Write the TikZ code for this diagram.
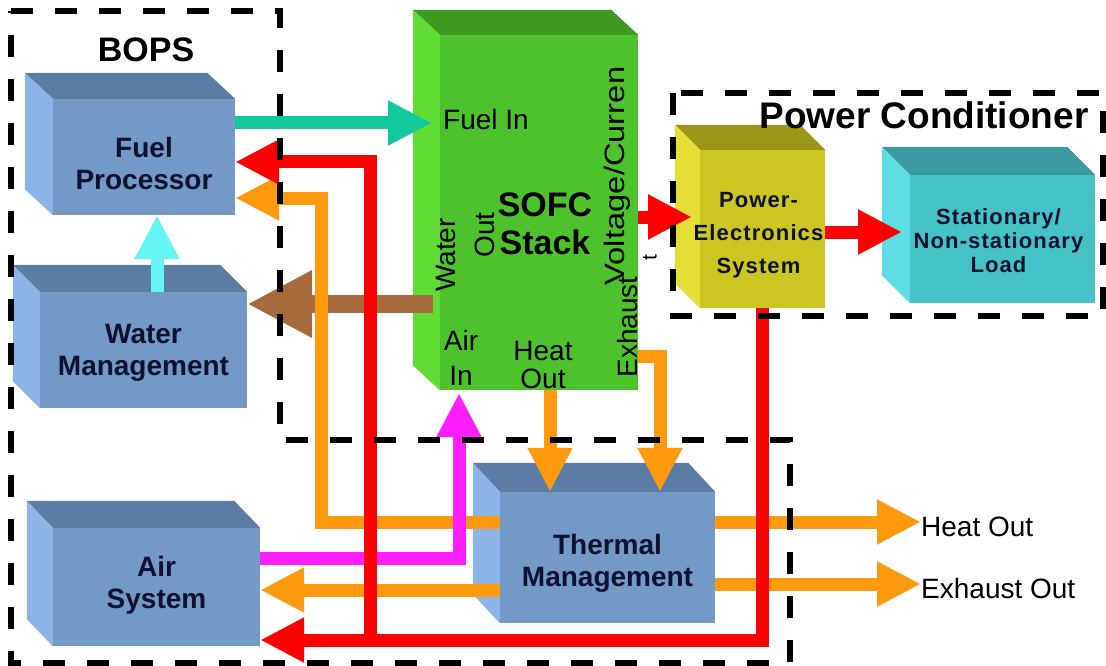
\documentclass[tikz,border=0pt]{standalone}
\usepackage{fontspec}
\setmainfont{Liberation Sans}
\newfontfamily\trackedsans[LetterSpace=5]{Liberation Sans}
\newfontfamily\stretchedsans[FakeStretch=1.17]{Liberation Sans}
\usetikzlibrary{arrows.meta,calc}

\definecolor{boxfront}{HTML}{7399C6}
\definecolor{boxtop}{HTML}{5B7DA4}
\definecolor{boxside}{HTML}{8BB5E6}
\definecolor{stackfront}{HTML}{4EC22C}
\definecolor{stacktop}{HTML}{3F9A22}
\definecolor{stackside}{HTML}{60DC34}
\definecolor{pefront}{HTML}{CCC622}
\definecolor{petop}{HTML}{9C9618}
\definecolor{peside}{HTML}{E4DE36}
\definecolor{loadfront}{HTML}{45C2C8}
\definecolor{loadtop}{HTML}{3A9CA2}
\definecolor{loadside}{HTML}{5EDDE4}
\definecolor{fuelteal}{HTML}{12C99B}
\definecolor{powred}{HTML}{FF0000}
\definecolor{heatorange}{HTML}{FF9A0E}
\definecolor{airpink}{HTML}{FF1EFF}
\definecolor{waterbrown}{HTML}{A66A3C}
\definecolor{watercyan}{HTML}{66F5F5}
\definecolor{labelnavy}{HTML}{0E1230}

% top and left faces of a block, depth (#4,#5)
\newcommand{\blockfaces}[5]{%
  \fill[#2] ($(#1.north west)+(#4,#5)$) -- ($(#1.north east)+(#4,#5)$) -- (#1.north east) -- (#1.north west) -- cycle;
  \fill[#3] ($(#1.north west)+(#4,#5)$) -- (#1.north west) -- (#1.south west) -- ($(#1.south west)+(#4,#5)$) -- cycle;
}

\begin{document}
\begin{tikzpicture}[x=1pt,y=-1pt,
  blk/.style={inner sep=0pt},
  blktext/.style={align=center,inner sep=0pt,text=labelnavy,font=\fontsize{28}{32}\selectfont\bfseries},
  trackedtext/.style={align=center,inner sep=0pt,text=labelnavy,font=\trackedsans\bfseries\fontsize{22}{33}\selectfont},
  port/.style={inner sep=0pt,font=\fontsize{28}{30}\selectfont},
  flow/.style={line width=13pt,-{Triangle[width=42pt,length=44pt]}},
  bigflow/.style={line width=18pt,-{Triangle[width=63pt,length=65pt]}},
  zone/.style={line width=6pt,dash pattern=on 22pt off 22pt}
]
\useasboundingbox (0,0) rectangle (1106,666);

% blocks
\node[blk,fill=boxfront,minimum width=182pt,minimum height=116pt] (fuel) at (144,157) {};
\blockfaces{fuel}{boxtop}{boxside}{-28}{-26}
\node[blktext] (fueltext) at ($(fuel)+(0,6)$) {Fuel\\Processor};

\node[blk,fill=boxfront,minimum width=207pt,minimum height=116pt] (water) at (143.5,350) {};
\blockfaces{water}{boxtop}{boxside}{-27}{-27}
\node[blktext] (watertext) at ($(water)+(0,3)$) {Water\\Management};

\node[blk,fill=boxfront,minimum width=207pt,minimum height=118pt] (air) at (156.5,587) {};
\blockfaces{air}{boxtop}{boxside}{-26}{-27}
\node[blktext] (airtext) at ($(air)+(0,-2)$) {Air\\System};

\node[blk,fill=boxfront,minimum width=215pt,minimum height=131pt] (therm) at (607.5,557.5) {};
\blockfaces{therm}{boxtop}{boxside}{-27}{-29}
\node[blktext] (thermtext) at ($(therm)+(0,6)$) {Thermal\\Management};

\node[blk,fill=stackfront,minimum width=198pt,minimum height=355pt] (sofc) at (539,212.5) {};
\blockfaces{sofc}{stacktop}{stackside}{-27}{-25}
\node[font=\fontsize{34}{38}\selectfont\bfseries,align=center,inner sep=0pt] (sofctext) at (545,224) {SOFC\\Stack};

\node[blk,fill=pefront,minimum width=125pt,minimum height=158pt] (pes) at (762.5,229) {};
\blockfaces{pes}{petop}{peside}{-25}{-25}
\node[trackedtext] (pestext) at ($(pes)+(-4,6)$) {Power-\\Electronics\\System};

\node[blk,fill=loadfront,minimum width=185pt,minimum height=128pt] (load) at (1002.5,239) {};
\blockfaces{load}{loadtop}{loadside}{-28}{-28}
\node[trackedtext,font=\trackedsans\bfseries\fontsize{22}{24}\selectfont] (loadtext) at ($(load)+(-4,2)$) {Stationary/\\Non-stationary\\Load};

% titles and port labels
\node[font=\fontsize{34}{36}\selectfont\bfseries,inner sep=0pt] (bops) at (146,50) {BOPS};
\node[font=\fontsize{37}{38}\selectfont\bfseries,inner sep=0pt] (pctitle) at (924,115) {Power Conditioner};
\node[port] (fuelinlbl) at (486,119) {Fuel In};
\node[port,rotate=90] (waterlbl) at (446,255) {Water};
\node[port,rotate=90] (outlbl) at (485,235) {Out};
\node[port,rotate=90,font=\stretchedsans\fontsize{28}{30}\selectfont] (vilbl) at (617,176) {Voltage/Curren};
\node[port,rotate=90,font=\fontsize{21}{22}\selectfont] (curtail) at (650,258) {t};
\node[port,rotate=90] (exhlbl) at (627,327) {Exhaust};
\node[port] (airlbl) at (461,340) {Air};
\node[port] (inlbl) at (461,376) {In};
\node[port] (heatlbl) at (543,351) {Heat};
\node[port] (heatoutlbl) at (543,379) {Out};
\node[port,anchor=west] (heatexit) at (921,527) {Heat Out};
\node[port,anchor=west] (exhexit) at (921,588) {Exhaust Out};

% bends and ports
\coordinate (fuelin) at (432,123);
\coordinate (redtop) at (370,162);
\coordinate (redbus) at (370,640);
\coordinate (hottop) at (321,198);
\coordinate (hotbus) at (321,522);
\coordinate (coolrow) at (400,590);
\coordinate (airin) at (459,393);
\coordinate (airbus) at (459,558);
\coordinate (waterout) at (433,304);
\coordinate (cyancol) at (157,0);
\coordinate (heatcol) at (550,0);
\coordinate (exhbend) at (660,356);
\coordinate (dcout) at (692,217);
\coordinate (loadin) at (902,232);
\coordinate (exhrow) at (0,584);

% flows
\draw[bigflow,waterbrown] (waterout) -- (water.east |- waterout);
\draw[flow,heatorange] (therm.west |- hotbus) -- (hotbus) -- (hottop) -- (fuel.east |- hottop);
\draw[flow,heatorange] (therm.west |- coolrow) -- (air.east |- coolrow);
\draw[flow,heatorange] (sofc.south -| heatcol) -- (therm.north -| heatcol);
\draw[flow,heatorange] (sofc.east |- exhbend) -- (exhbend) -- (therm.north -| exhbend);
\draw[flow,heatorange] (therm.east |- hotbus) -- (heatexit.west |- hotbus);
\draw[flow,heatorange] (therm.east |- exhrow) -- (exhexit.west |- exhrow);
\draw[flow,watercyan] (water.north -| cyancol) -- (fuel.south -| cyancol);
\draw[flow,fuelteal] (fuel.east |- fuelin) -- (fuelin);
\draw[flow,airpink] (air.east |- airbus) -- (airbus) -- (airin);
\draw[flow,powred] (pes.south) |- (air.east |- redbus);
\draw[flow,powred] (redbus) -- (redtop) -- (fuel.east |- redtop);
\draw[flow,powred] (sofc.east |- dcout) -- (dcout);
\draw[flow,powred] (pes.east |- loadin) -- (loadin);

% subsystem borders
\draw[zone] (11,11) -- (280,11) -- (280,440) -- (790,440) -- (790,663) -- (11,663) -- cycle;
\draw[zone] (673,93) rectangle (1103,316);
\end{tikzpicture}
\end{document}
